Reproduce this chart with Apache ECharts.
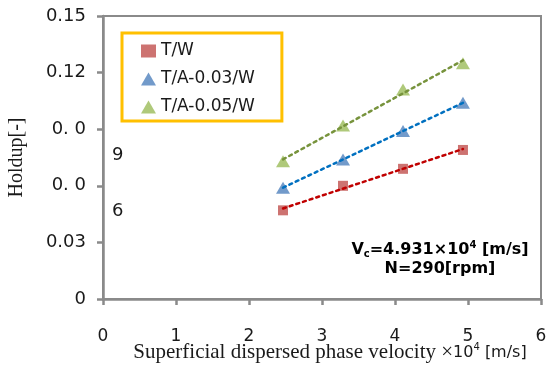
<!DOCTYPE html>
<html><head><meta charset="utf-8">
<script src="https://cdn.jsdelivr.net/npm/echarts@6/dist/echarts.min.js"></script>
<style>html,body{margin:0;padding:0;background:#fff}#c{width:546px;height:367px}</style>
</head><body><div id="c"></div>
<script>
const velocity = [2.466, 3.288, 4.110, 4.931];
const holdupTW = [0.047, 0.060, 0.069, 0.079];
const holdupTA03 = [0.059, 0.074, 0.089, 0.104];
const holdupTA05 = [0.073, 0.092, 0.111, 0.125];
const seriesNames = ['T/W', 'T/A-0.03/W', 'T/A-0.05/W'];
const yTickLabels = ['0', '0.03', '0. 0', '0. 0', '0.12', '0.15'];
const yTickWrapped = ['', '', '6', '9', '', ''];
const xTickLabels = ['0', '1', '2', '3', '4', '5', '6'];

function trend(xs, ys) {
  const n = xs.length;
  let sx = 0, sy = 0, sxx = 0, sxy = 0;
  for (let i = 0; i < n; i++) { sx += xs[i]; sy += ys[i]; sxx += xs[i] * xs[i]; sxy += xs[i] * ys[i]; }
  const k = (n * sxy - sx * sy) / (n * sxx - sx * sx);
  const b = (sy - k * sx) / n;
  return [[xs[0], k * xs[0] + b], [xs[n - 1], k * xs[n - 1] + b]];
}
const pts = ys => velocity.map((x, i) => [x, ys[i]]);

const gray = '#8a8a8a';
const sans = 'DejaVu Sans';
const serif = 'Liberation Serif';
const tickIdx = v => Math.round(v / 0.03);

const chart = echarts.init(document.getElementById('c'), null, {renderer: 'canvas'});
chart.setOption({
  animation: false,
  backgroundColor: '#fff',
  grid: {left: 103, right: 5, top: 16, bottom: 68, show: true, borderColor: gray, borderWidth: 2, backgroundColor: 'transparent', containLabel: false, outerBoundsMode: 'none'},
  xAxis: {
    type: 'value', min: 0, max: 6, interval: 1,
    axisLine: {show: true, onZero: false, lineStyle: {color: gray, width: 2.5}},
    axisTick: {show: true, inside: false, length: 6, lineStyle: {color: gray, width: 2.5}},
    splitLine: {show: false},
    axisLabel: {margin: 29, fontSize: 17, fontFamily: sans, color: '#1a1a1a', formatter: v => xTickLabels[Math.round(v)]},
    name: '{s|Superficial dispersed phase velocity ×}{a|10}{sup|4}{a| [m/s]}',
    nameLocation: 'middle', nameGap: 43, nameMoveOverlap: false,
    nameTextStyle: {
      padding: [0, 0, 0, 16],
      rich: {
        s: {fontFamily: serif, fontSize: 21, color: '#1a1a1a'},
        a: {fontFamily: sans, fontSize: 16, color: '#1a1a1a'},
        sup: {fontFamily: sans, fontSize: 10, color: '#1a1a1a', verticalAlign: 'top', padding: [0, 0, 10, 0]}
      }
    }
  },
  yAxis: [{
    type: 'value', min: 0, max: 0.15, interval: 0.03, position: 'left',
    axisLine: {show: true, onZero: false, lineStyle: {color: gray, width: 2.5}},
    axisTick: {show: true, inside: false, length: 6, lineStyle: {color: gray, width: 2.5}},
    splitLine: {show: false},
    axisLabel: {margin: 17, fontSize: 18, fontFamily: sans, color: '#1a1a1a', formatter: v => yTickLabels[tickIdx(v)]},
    name: 'Holdup[-]', nameLocation: 'middle', nameGap: 76, nameMoveOverlap: false,
    nameTextStyle: {fontFamily: serif, fontSize: 20, color: '#1a1a1a'}
  }, {
    type: 'value', min: 0, max: 0.15, interval: 0.03, position: 'left', offset: 0,
    axisLine: {show: false}, axisTick: {show: false}, splitLine: {show: false},
    axisLabel: {inside: true, margin: 9, fontSize: 18, fontFamily: sans, color: '#1a1a1a', lineHeight: 52,
      formatter: v => { const t = yTickWrapped[tickIdx(v)]; return t ? '\n' + t : ''; }}
  }],
  legend: {
    data: seriesNames, orient: 'vertical', left: 122, top: 33,
    padding: [8, 27, 4, 19], itemGap: 8, itemWidth: 15, itemHeight: 13,
    borderColor: '#FFC000', borderWidth: 3, backgroundColor: '#fff',
    textStyle: {fontSize: 17, fontFamily: sans, color: '#1a1a1a', lineHeight: 20}
  },
  graphic: [{
    type: 'text', x: 440, y: 240, z: 100,
    style: {
      text: '{b|V}{sub|c}{b|=4.931×10}{sup|4}{b| [m/s]}\n{b|N=290[rpm]}',
      align: 'center', verticalAlign: 'top',
      rich: {
        b: {fontFamily: sans, fontWeight: 'bold', fontSize: 16, lineHeight: 19, fill: '#000'},
        sub: {fontFamily: sans, fontWeight: 'bold', fontSize: 10, lineHeight: 19, fill: '#000', verticalAlign: 'bottom', padding: [8, 0, 0, 0]},
        sup: {fontFamily: sans, fontWeight: 'bold', fontSize: 10, lineHeight: 19, fill: '#000', verticalAlign: 'top', padding: [0, 0, 8, 0]}
      }
    }
  }],
  series: [
    {name: seriesNames[0], type: 'scatter', data: pts(holdupTW), symbol: 'rect', symbolSize: 10, itemStyle: {color: '#C0504D'}, z: 2},
    {name: seriesNames[1], type: 'scatter', data: pts(holdupTA03), symbol: 'triangle', symbolSize: [14, 12], itemStyle: {color: '#4F81BD'}, z: 2},
    {name: seriesNames[2], type: 'scatter', data: pts(holdupTA05), symbol: 'triangle', symbolSize: [14, 12], itemStyle: {color: '#9BBB59'}, z: 2},
    {name: 'trend1', type: 'line', data: trend(velocity, holdupTW), symbol: 'none', z: 3, lineStyle: {color: '#C00000', width: 2.5, type: [3, 4], cap: 'round'}},
    {name: 'trend2', type: 'line', data: trend(velocity, holdupTA03), symbol: 'none', z: 3, lineStyle: {color: '#0070C0', width: 2.5, type: [3, 4], cap: 'round'}},
    {name: 'trend3', type: 'line', data: trend(velocity, holdupTA05), symbol: 'none', z: 3, lineStyle: {color: '#77933C', width: 2.5, type: [3, 4], cap: 'round'}}
  ]
});
</script>
</body></html>
